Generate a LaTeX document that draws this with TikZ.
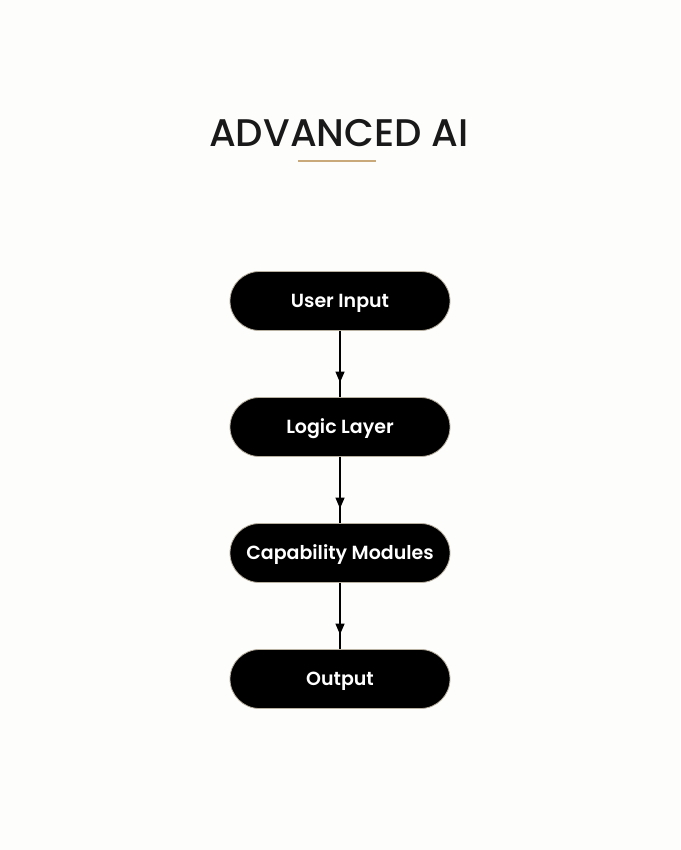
\documentclass[tikz,border=0pt]{standalone}
\usepackage{fontspec}
\setmainfont{Poppins}
\newfontfamily\titlefont{Poppins Medium}
\newfontfamily\boxfont{Poppins SemiBold}
\usetikzlibrary{arrows.meta,decorations.markings}
\definecolor{bgc}{HTML}{FDFDFC}
\definecolor{goldline}{HTML}{C9A97A}
\definecolor{boxedge}{HTML}{B8B0A0}
\tikzset{
  stagebox/.style={draw=boxedge, line width=0.8pt, fill=black, text=white,
    minimum width=220pt, minimum height=59pt, rounded corners=29.5pt,
    font=\fontsize{19}{21}\boxfont, inner sep=0pt, text height=12.5pt, text depth=0pt},
  flowarrow/.style={line width=1.4pt, draw=black,
    postaction={decorate},
    decoration={markings, mark=at position 0.78 with {\arrow{Triangle[length=11pt,width=9pt]}}}}
}
\begin{document}
\begin{tikzpicture}[x=1pt,y=-1pt]
\fill[bgc] (0,0) rectangle (680,850);
\useasboundingbox (0,0) rectangle (680,850);
\node[font=\fontsize{38.5}{44}\titlefont, text=black!90] (title) at (339,133) {ADVANCED AI};
\coordinate (ul) at (298,161.5);
\coordinate (ur) at (376,161.5);
\draw[goldline, line width=2pt] (ul) -- (ur);
\node[stagebox] (n1) at (340,301) {User Input};
\node[stagebox] (n2) at (340,427) {Logic Layer};
\node[stagebox] (n3) at (340,553) {Capability Modules};
\node[stagebox] (n4) at (340,679) {Output};
\draw[flowarrow] (n1.south) -- (n2.north);
\draw[flowarrow] (n2.south) -- (n3.north);
\draw[flowarrow] (n3.south) -- (n4.north);
\end{tikzpicture}
\end{document}
